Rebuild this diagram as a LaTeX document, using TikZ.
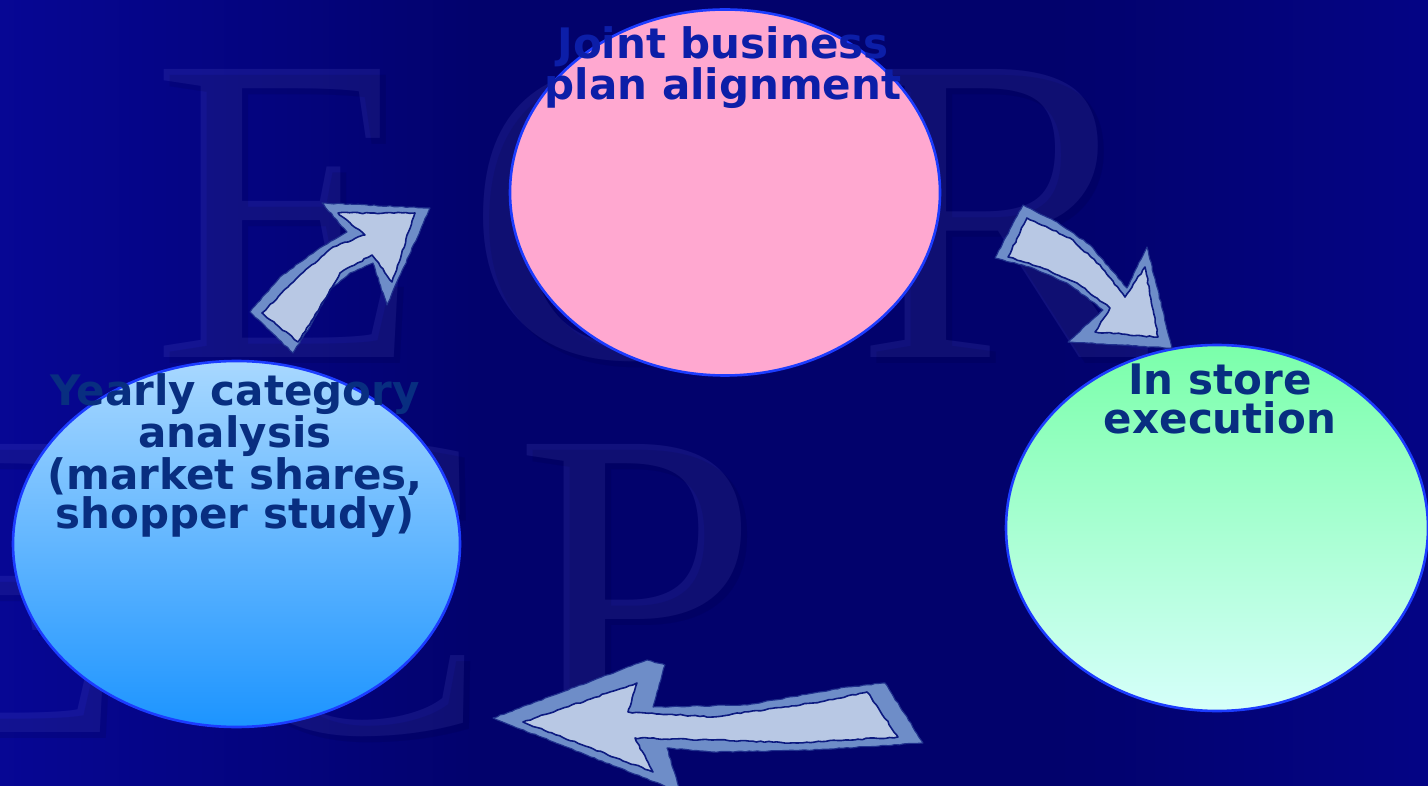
\documentclass[tikz,border=0pt]{standalone}
\usepackage{fontspec}
\newfontfamily\labelfont{DejaVu Sans}
\newfontfamily\letterfont{Liberation Serif}
\usetikzlibrary{shapes.geometric,decorations.pathmorphing}

% backdrop colours
\definecolor{bgL}{RGB}{14,14,192}
\definecolor{bgLm}{RGB}{8,8,160}
\definecolor{bgM}{RGB}{2,2,108}
\definecolor{bgRm}{RGB}{6,6,150}
\definecolor{bgR}{RGB}{12,12,182}
% emboss tints for the backdrop letters
\definecolor{embosslight}{RGB}{130,130,240}
\definecolor{embossdark}{RGB}{0,0,30}
% bubble colours
\definecolor{pinkfill}{RGB}{255,168,208}
\definecolor{skytop}{RGB}{168,216,255}
\definecolor{skybot}{RGB}{28,148,255}
\definecolor{mintop}{RGB}{122,255,170}
\definecolor{minbot}{RGB}{214,255,250}
\definecolor{rimblue}{RGB}{28,60,255}
% captions
\definecolor{plantext}{RGB}{12,30,168}
\definecolor{navytext}{RGB}{8,46,128}
% block arrows
\definecolor{arrowband}{RGB}{110,141,200}
\definecolor{arrowfill}{RGB}{184,200,228}
\definecolor{arrowline}{RGB}{12,26,128}

\pgfdeclarehorizontalshading{backdrop}{100bp}{color(0bp)=(bgL); color(20bp)=(bgLm); color(42bp)=(bgM); color(62bp)=(bgM); color(84bp)=(bgRm); color(100bp)=(bgR)}

\tikzset{
  bubble/.style={ellipse, draw=rimblue, line width=2.6pt, inner sep=0pt},
  capt/.style={font=\labelfont\bfseries\fontsize{42}{38.5}\selectfont, align=center, inner sep=0pt},
  wmlight/.style={font=\letterfont\fontsize{440}{440}\selectfont, text=embosslight, text opacity=0.12, inner sep=0pt},
  wmdark/.style={font=\letterfont\fontsize{440}{440}\selectfont, text=embossdark, text opacity=0.10, inner sep=0pt},
  band/.style={fill=arrowband, draw=arrowline!80!arrowband, line width=1.1pt, line join=round,
    decorate, decoration={random steps, segment length=4pt, amplitude=0.5pt}},
  core/.style={fill=arrowfill, draw=arrowline, line width=1.6pt, line join=round,
    decorate, decoration={random steps, segment length=4pt, amplitude=0.7pt}}
}

\begin{document}
\begin{tikzpicture}[x=1pt, y=-1pt]
\useasboundingbox (0,0) rectangle (1428,786);
\begin{scope}
\clip (0,0) rectangle (1428,786);
\shade[shading=backdrop] (0,0) rectangle (1428,786);

% embossed letters in the backdrop
\foreach \ch/\px/\py [count=\i] in {E/154/361, C/468/361, R/858/361, E/-140/735, C/198/735, P/517/735} {
  \node[wmlight, anchor=base west] (wl\i) at (\px-3,\py-3) {\ch};
  \node[wmdark, anchor=base west] (wd\i) at (\px+3,\py+3) {\ch};
}

% the three stages
\node[bubble, fill=pinkfill, minimum width=430pt, minimum height=366pt] (plan) at (725,192.5) {};
\node[bubble, top color=skytop, bottom color=skybot, minimum width=447pt, minimum height=366pt] (yearly) at (236.5,544) {};
\node[bubble, top color=mintop, bottom color=minbot, minimum width=422pt, minimum height=366pt] (store) at (1217,528) {};

% arrow: yearly analysis -> plan
\path[band] (250,312) -- (280,277) -- (317,250) -- (347,232) -- (322,203) -- (430,208) -- (387,305)
  -- (373,263) -- (350,273) -- (330,290) -- (312,323) -- (293,353) -- cycle;
\path[core] (262,313) -- (297,278) -- (333,247) -- (365,235) -- (338,213) -- (415,213) -- (392,282)
  -- (372,255) -- (340,273) -- (320,307) -- (298,342) -- cycle;

% arrow: plan -> in store execution
\path[band] (1023,205) -- (1057,222) -- (1090,245) -- (1127,288) -- (1147,247) -- (1172,348)
  -- (1068,342) -- (1103,310) -- (1097,305) -- (1067,283) -- (1030,267) -- (995,258) -- cycle;
\path[core] (1027,218) -- (1070,238) -- (1100,265) -- (1125,297) -- (1145,267) -- (1158,337)
  -- (1095,332) -- (1110,308) -- (1077,283) -- (1040,267) -- (1008,257) -- cycle;

% arrow: in store execution -> yearly analysis
\path[band] (493,718) -- (647,660) -- (665,665) -- (653,707) -- (747,705) -- (847,687) -- (885,683)
  -- (923,743) -- (813,750) -- (713,752) -- (667,748) -- (680,792) -- cycle;
\path[core] (523,722) -- (637,683) -- (628,712) -- (713,717) -- (813,703) -- (867,692)
  -- (898,737) -- (797,743) -- (713,740) -- (635,738) -- (653,772) -- cycle;

% captions (anchored on the baseline of their last line)
\node[capt, text=plantext, anchor=base] (plantxt) at (723,100) {Joint business\\plan alignment};
\node[capt, text=navytext, anchor=base] (yearlytxt) at (235,528) {Yearly category\\analysis\\(market shares,\\shopper study)};
\node[capt, text=navytext, anchor=base] (storetxt) at (1220,433) {In store\\execution};
\end{scope}
\end{tikzpicture}
\end{document}
